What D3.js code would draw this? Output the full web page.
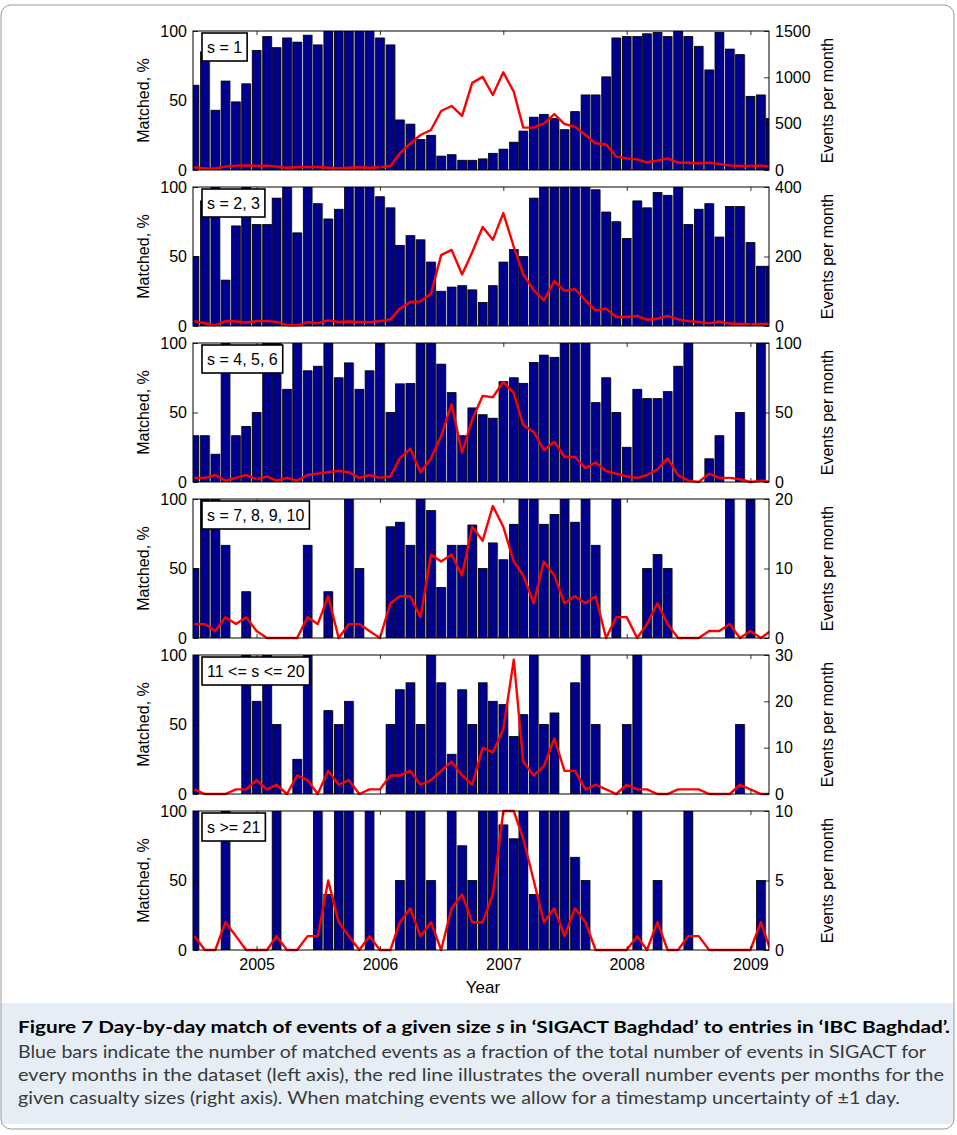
<!DOCTYPE html>
<html>
<head>
<meta charset="utf-8">
<script src="https://cdn.jsdelivr.net/npm/d3@7"></script>
<style>
  body { margin: 0; background: #fff; }
  svg { display: block; font-family: "Liberation Sans", Arial, sans-serif; }
</style>
</head>
<body>
<div id="chart"></div>
<script>
// months shown on the x axis (one bar per month)
const months = [
  "2004-07","2004-08","2004-09","2004-10","2004-11","2004-12",
  "2005-01","2005-02","2005-03","2005-04","2005-05","2005-06","2005-07","2005-08","2005-09","2005-10","2005-11","2005-12",
  "2006-01","2006-02","2006-03","2006-04","2006-05","2006-06","2006-07","2006-08","2006-09","2006-10","2006-11","2006-12",
  "2007-01","2007-02","2007-03","2007-04","2007-05","2007-06","2007-07","2007-08","2007-09","2007-10","2007-11","2007-12",
  "2008-01","2008-02","2008-03","2008-04","2008-05","2008-06","2008-07","2008-08","2008-09","2008-10","2008-11","2008-12",
  "2009-01","2009-02","2009-03"
];

// matched, % (blue bars, left axis)
const matchedS1 = [61,85,43,64,49,62,86,96,88,95,92,97,90,100,100,100,100,100,95,90,36,33,22,25,10,11,7,7,8,12,15,20,28,38,40,37,29,42,54,54,67,95,96,96,98,99,96,100,96,89,72,99,87,83,53,54,37];
const matchedS2 = [50,90,100,33,72,100,73,73,92,100,67,100,88,77,84,100,100,100,93,85,58,65,62,46,25,28,29,26,17,29,46,55,50,92,100,100,100,100,100,98,82,75,63,90,85,96,94,100,73,84,88,64,86,86,60,43,43];
const matchedS3 = [33.3,33.3,20,100,33.3,40,50,100,100,66.7,100,80,83.3,100,75,85.7,66.7,80,100,50,70.6,70.8,100,100,84.8,64.3,33.3,53.3,48.4,45.9,72.2,75,71,86,91.3,89.7,100,100,100,57.1,75,50,25,66.7,60,60,65,83.3,100,0,16.7,33.3,0,50,0,100,0];
const matchedS4 = [50,100,100,66.7,0,33.3,0,0,0,0,0,66.7,0,33.3,0,100,50,0,0,80,83.3,66.7,100,91.7,36.4,66.7,66.7,81.3,50,68.4,56.3,81.8,100,100,81.8,88.9,100,83.3,100,66.7,0,100,0,0,50,60,50,0,0,0,0,0,100,0,100,0,0];
const matchedS5 = [100,0,0,0,0,100,66.7,100,50,0,25,100,0,60,50,66.7,0,0,0,50,75,80,50,100,80,28.6,75,50,80,66.7,64.3,41.4,57.1,100,50,58.3,0,80,100,50,0,0,50,100,0,0,0,0,0,0,0,0,0,50,0,0,0];
const matchedS6 = [100,0,0,100,0,0,0,0,100,0,0,0,100,40,100,100,0,100,0,0,50,100,100,50,0,100,75,50,100,100,90,80,100,40,100,100,100,66.7,50,0,0,0,0,100,0,50,0,0,100,0,0,0,0,0,0,50,0];

// events per month (red line, right axis)
const eventsS1 = [29,18,18,36,47,50,43,47,36,25,29,32,32,25,18,25,29,25,29,43,180,288,378,432,637,691,583,940,1005,809,1054,845,457,457,504,604,496,468,378,288,277,144,126,115,83,101,126,79,79,72,79,65,50,43,43,47,36];
const eventsS2 = [14,8,2,14,13,10,14,14,12,3,2,11,8,16,12,13,12,11,14,19,50,69,71,93,204,219,148,212,285,248,325,228,149,103,74,129,101,106,74,45,50,26,26,29,18,21,29,19,14,12,8,13,7,6,5,6,6];
const eventsS3 = [3,3,5,1,3,5,2,4,1,3,1,5,6,7,8,7,3,5,3,4,17,24,7,17,33,56,21,45,62,61,72,64,41,36,23,29,18,18,10,14,8,6,4,3,5,9,17,5,1,0,6,3,3,2,0,1,0];
const eventsS4 = [2,2,1,3,2,3,1,0,0,0,0,3,2,6,0,2,2,1,0,5,6,6,3,12,11,12,9,16,14,19,16,11,9,5,11,9,5,6,5,6,0,3,3,0,2,5,2,0,0,0,1,1,2,0,1,0,1];
const eventsS5 = [1,0,0,0,1,1,3,1,2,0,4,3,0,5,2,3,0,1,1,4,4,5,2,3,5,7,4,2,10,9,14,29,7,4,6,12,5,5,1,2,1,0,2,1,1,0,0,1,1,1,0,0,0,2,1,0,0];
const eventsS6 = [1,0,0,2,1,0,0,0,1,0,0,1,1,5,2,1,0,1,0,0,2,3,1,2,0,3,4,2,2,4,10,10,8,5,2,3,1,3,2,0,0,0,0,1,0,2,0,0,1,1,0,0,0,0,0,2,0];

const sizeLabels = ["s = 1", "s = 2, 3", "s = 4, 5, 6", "s = 7, 8, 9, 10", "11 <= s <= 20", "s >= 21"];
const rightMax = [1500, 400, 100, 20, 30, 10];
const rightTicks = [[0, 500, 1000, 1500], [0, 200, 400], [0, 50, 100], [0, 10, 20], [0, 10, 20, 30], [0, 5, 10]];
const leftTicks = [0, 50, 100];

const captionLines = [
  "Blue bars indicate the number of matched events as a fraction of the total number of events in SIGACT for",
  "every months in the dataset (left axis), the red line illustrates the overall number events per months for the",
  "given casualty sizes (right axis). When matching events we allow for a timestamp uncertainty of \u00b11 day."
];
const captionEnds = [926, 944, 900];

const panels = [matchedS1, matchedS2, matchedS3, matchedS4, matchedS5, matchedS6].map((m, i) => ({
  matched: m,
  events: [eventsS1, eventsS2, eventsS3, eventsS4, eventsS5, eventsS6][i],
  label: sizeLabels[i],
  max: rightMax[i],
  ticks: rightTicks[i]
}));

const W = 957, H = 1135;
const left = 193, right = 769;
const top0 = 31, step = 156, ph = 139;

const dates = months.map(d3.timeParse("%Y-%m"));

const x = d3.scaleTime()
  .domain([new Date(2004, 5, 27), new Date(2009, 1, 25)])
  .range([left, right]);
const barW = (x(dates[dates.length - 1]) - x(dates[0])) / (dates.length - 1) * 0.84;

const svg = d3.select('#chart').append('svg')
  .attr('width', W)
  .attr('height', H);

// caption background
svg.append('rect')
  .attr('x', 1).attr('y', 1003)
  .attr('width', 953).attr('height', 121)
  .attr('fill', '#e6edf5');

// outer frame
svg.append('rect')
  .attr('x', 1).attr('y', 5)
  .attr('width', 953).attr('height', 1124)
  .attr('rx', 10)
  .attr('fill', 'none')
  .attr('stroke', '#9a9a9a')
  .attr('stroke-width', 1);

const defs = svg.append('defs');

panels.forEach((p, i) => {
  const top = top0 + i * step;
  const g = svg.append('g').attr('transform', `translate(0,${top})`);

  const yL = d3.scaleLinear().domain([0, 100]).range([ph, 0]);
  const yR = d3.scaleLinear().domain([0, p.max]).range([ph, 0]);

  defs.append('clipPath').attr('id', 'clip' + i)
    .append('rect').attr('x', left).attr('y', 0).attr('width', right - left).attr('height', ph);
  defs.append('clipPath').attr('id', 'clipl' + i)
    .append('rect').attr('x', left).attr('y', -3).attr('width', right - left).attr('height', ph + 6);

  const bars = g.append('g').attr('clip-path', `url(#clip${i})`);

  /* sombra gris a la derecha de cada barra */
  bars.selectAll('.shade')
    .data(p.matched)
    .join('rect')
    .attr('class', 'shade')
    .attr('x', (d, j) => x(dates[j]) - barW / 2 + 1.2)
    .attr('y', d => yL(d))
    .attr('width', barW)
    .attr('height', d => ph - yL(d))
    .attr('fill', '#b4b4b4')
    .attr('display', d => d > 0 ? null : 'none');

  bars.selectAll('.bar')
    .data(p.matched)
    .join('rect')
    .attr('class', 'bar')
    .attr('x', (d, j) => x(dates[j]) - barW / 2)
    .attr('y', d => yL(d))
    .attr('width', barW)
    .attr('height', d => ph - yL(d))
    .attr('fill', '#00008f')
    .attr('stroke', '#000')
    .attr('stroke-width', 0.8)
    .attr('display', d => d > 0 ? null : 'none');

  const line = d3.line()
    .x((d, j) => x(dates[j]))
    .y(d => yR(d));

  g.append('path')
    .datum(p.events)
    .attr('clip-path', `url(#clipl${i})`)
    .attr('d', line)
    .attr('fill', 'none')
    .attr('stroke', '#ff0000')
    .attr('stroke-width', 2.4)
    .attr('stroke-linejoin', 'round');

  // ejes
  const yAxisL = d3.axisLeft(yL).tickValues(leftTicks).tickSize(-5).tickPadding(6);
  const yAxisR = d3.axisRight(yR).tickValues(p.ticks).tickSize(-5).tickPadding(6)
    .tickFormat(d3.format('d'));
  const xAxisB = d3.axisBottom(x).ticks(d3.timeYear.every(1)).tickSize(-4).tickPadding(9)
    .tickFormat(i === panels.length - 1 ? d3.timeFormat('%Y') : () => '');
  const xAxisT = d3.axisTop(x).ticks(d3.timeYear.every(1)).tickSize(-4).tickFormat(() => '');

  const axes = [
    g.append('g').attr('transform', `translate(${left},0)`).call(yAxisL),
    g.append('g').attr('transform', `translate(${right},0)`).call(yAxisR),
    g.append('g').attr('transform', `translate(0,${ph})`).call(xAxisB),
    g.append('g').call(xAxisT)
  ];
  axes.forEach(a => {
    a.select('.domain').remove();
    a.selectAll('line').attr('stroke', '#000').attr('stroke-width', 0.8);
    a.selectAll('text').attr('font-size', 16).attr('fill', '#000')
      .attr('font-family', '"Liberation Sans", Arial, sans-serif');
  });

  g.append('rect')
    .attr('x', left).attr('y', 0)
    .attr('width', right - left).attr('height', ph)
    .attr('fill', 'none')
    .attr('stroke', '#000')
    .attr('stroke-width', 1);

  // leyenda
  const lg = g.append('g').attr('transform', `translate(202,2)`);
  const box = lg.append('rect')
    .attr('height', 28)
    .attr('fill', '#fff')
    .attr('stroke', '#000')
    .attr('stroke-width', 1.6);
  const t = lg.append('text')
    .attr('x', 5).attr('y', 20)
    .attr('font-size', 16)
    .text(p.label);
  box.attr('width', t.node().getComputedTextLength() + 10);

  g.append('text')
    .attr('transform', `translate(149,${ph / 2}) rotate(-90)`)
    .attr('text-anchor', 'middle')
    .attr('font-size', 16)
    .text('Matched, %');

  g.append('text')
    .attr('transform', `translate(833,${ph / 2}) rotate(-90)`)
    .attr('text-anchor', 'middle')
    .attr('font-size', 16)
    .text('Events per month');
});

svg.select('g:last-of-type');
svg.append('text')
  .attr('x', 483).attr('y', 993)
  .attr('text-anchor', 'middle')
  .attr('font-size', 17)
  .text('Year');

// caption
const cap = svg.append('g').attr('font-family', 'Lato, "Open Sans", sans-serif');
const title = cap.append('text')
  .attr('x', 18).attr('y', 1033)
  .attr('font-size', 17.5)
  .attr('font-weight', 'bold')
  .attr('fill', '#000')
  .attr('textLength', 932)
  .attr('lengthAdjust', 'spacingAndGlyphs');
title.append('tspan').text("Figure 7  Day-by-day match of events of a given size ");
title.append('tspan').attr('font-style', 'italic').text('s');
title.append('tspan').text(" in \u2018SIGACT Baghdad\u2019 to entries in \u2018IBC Baghdad\u2019.");

cap.selectAll('.capline')
  .data(captionLines)
  .join('text')
  .attr('class', 'capline')
  .attr('x', 18)
  .attr('y', (d, j) => 1058 + j * 23)
  .attr('font-size', 17.5)
  .attr('fill', '#3a3a3a')
  .attr('textLength', (d, j) => captionEnds[j] - 18)
  .attr('lengthAdjust', 'spacingAndGlyphs')
  .text(d => d);
</script>
</body>
</html>
